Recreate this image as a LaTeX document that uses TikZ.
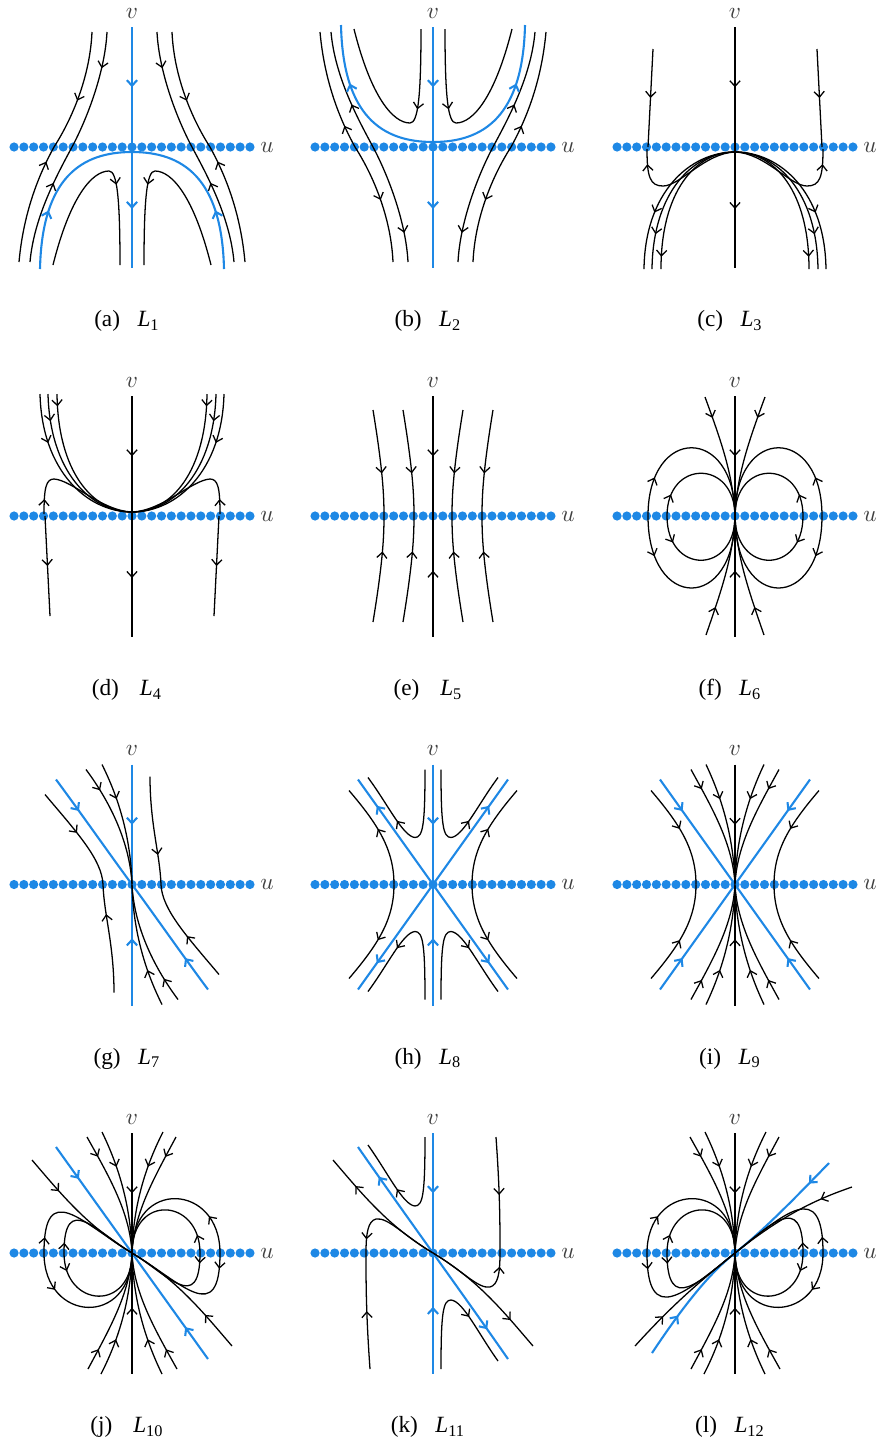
\documentclass[tikz,border=0pt]{standalone}
\usepackage{fontspec}
\setmainfont{Liberation Serif}
\usetikzlibrary{arrows.meta,decorations.markings}
\definecolor{dotblue}{RGB}{30,136,229}

\tikzset{
  orbit/.style={black, line width=0.55pt},
  sepline/.style={dotblue, line width=0.9pt},
  arr/.style={postaction={decorate,decoration={markings,mark=at position #1 with {\arrow{>}}}}},
  rarr/.style={postaction={decorate,decoration={markings,mark=at position #1 with {\arrow{<}}}}},
  lbl/.style={inner sep=0.5pt, black!75},
}

% u-axis of equilibria, labels and caption of one panel
\newcommand{\uvpanel}[2]{%
  \foreach \k in {-12,...,12}
    \fill[dotblue] (\k*9.83,0) circle (4.6);
  \node[lbl] (v#1) at (0,134) {$v$};
  \node[lbl] (u#1) at (135,0) {$u$};
  \node (cap#1) at (-5,-174) {#2};
}

\begin{document}
\begin{tikzpicture}[x=0.43pt, y=0.43pt, >={Straight Barb[length=2.4pt,width=4.4pt]}]
\useasboundingbox (0,0) rectangle (878,-1446);

% (a) L_1
\begin{scope}[shift={(132,-147)}]
  \uvpanel{a}{(a)\hspace{7.5pt}\textit{L}\textsubscript{1}}
  \draw[sepline, arr=0.25, arr=0.755] (0,120) -- (0,-121);
  \foreach \s in {1,-1}{
    \begin{scope}[xscale=\s]
      \draw[orbit, arr=0.29, rarr=0.6] (-40,115) .. controls (-42,70) and (-60,28) .. (-78,0) .. controls (-90,-22) and (-108,-60) .. (-113,-115);
      \draw[orbit, arr=0.15, rarr=0.69] (-25,115) .. controls (-27,75) and (-45,28) .. (-60,0) .. controls (-75,-28) and (-98,-70) .. (-102,-115);
      \draw[orbit, arr=0.62] (-79,-118) .. controls (-62,-50) and (-40,-24) .. (-23,-24) .. controls (-15,-24) and (-12,-50) .. (-12,-118);
      \draw[sepline, arr=0.35] (-92,-122) .. controls (-90,-30) and (-50,-5) .. (0,-5);
    \end{scope}
  }
\end{scope}

% (b) L_2
\begin{scope}[shift={(433,-147)}]
  \uvpanel{b}{(b)\hspace{7.5pt}\textit{L}\textsubscript{2}}
  \draw[sepline, arr=0.25, arr=0.755] (0,120) -- (0,-121);
  \foreach \s in {1,-1}{
    \begin{scope}[xscale=\s]
      \draw[orbit, rarr=0.29, arr=0.6] (-40,-115) .. controls (-42,-70) and (-60,-28) .. (-78,0) .. controls (-90,22) and (-108,60) .. (-113,115);
      \draw[orbit, rarr=0.15, arr=0.69] (-25,-115) .. controls (-27,-75) and (-45,-28) .. (-60,0) .. controls (-75,28) and (-98,70) .. (-102,115);
      \draw[orbit, arr=0.38] (-12,118) .. controls (-12,50) and (-15,24) .. (-23,24) .. controls (-40,24) and (-62,50) .. (-79,118);
      \draw[sepline, arr=0.65] (0,5) .. controls (-50,5) and (-90,30) .. (-92,122);
    \end{scope}
  }
\end{scope}

% (c) L_3
\begin{scope}[shift={(735,-147)}]
  \uvpanel{c}{(c)\hspace{7.5pt}\textit{L}\textsubscript{3}}
  \draw[orbit, arr=0.25, arr=0.755] (0,120) -- (0,-121);
  \foreach \s in {1,-1}{
    \begin{scope}[xscale=\s]
      \draw[orbit, arr=0.5] (-82,98) -- (-87,0);
      \draw[orbit, arr=0.88] (0,-5) .. controls (-30,-6) and (-55,-39) .. (-72,-39) .. controls (-85,-39) and (-88,-30) .. (-88,-2);
      \draw[orbit, arr=0.65] (0,-5) .. controls (-45,-5) and (-90,-45) .. (-91,-122);
      \draw[orbit, arr=0.78] (0,-5) .. controls (-42,-5) and (-82,-45) .. (-83,-122);
      \draw[orbit, arr=0.92] (0,-5) .. controls (-40,-5) and (-74,-45) .. (-74,-122);
    \end{scope}
  }
\end{scope}

% (d) L_4
\begin{scope}[shift={(132,-516)}]
  \uvpanel{d}{(d)\hspace{9pt}\textit{L}\textsubscript{4}}
  \draw[orbit, arr=0.25, arr=0.755] (0,120) -- (0,-121);
  \foreach \s in {1,-1}{
    \begin{scope}[xscale=\s]
      \draw[orbit, arr=0.5] (-87,0) -- (-82,-100);
      \draw[orbit, arr=0.12] (-88,2) .. controls (-88,28) and (-86,37) .. (-78,37) .. controls (-60,36) and (-30,5) .. (0,4);
      \draw[orbit, arr=0.3] (-92,122) .. controls (-90,45) and (-45,4) .. (0,4);
      \draw[orbit, arr=0.17] (-84,122) .. controls (-82,45) and (-42,4) .. (0,4);
      \draw[orbit, arr=0.08] (-75,122) .. controls (-74,45) and (-40,4) .. (0,4);
    \end{scope}
  }
\end{scope}

% (e) L_5
\begin{scope}[shift={(433,-516)}]
  \uvpanel{e}{(e)\hspace{9pt}\textit{L}\textsubscript{5}}
  \draw[orbit, arr=0.25, rarr=0.755] (0,120) -- (0,-121);
  \foreach \s in {1,-1}{
    \begin{scope}[xscale=\s]
      \draw[orbit, arr=0.3, rarr=0.7] (-60,106) .. controls (-50,45) and (-49,20) .. (-49,0) .. controls (-49,-20) and (-50,-45) .. (-60,-106);
      \draw[orbit, arr=0.3, rarr=0.7] (-30,106) .. controls (-20,45) and (-19,20) .. (-19,0) .. controls (-19,-20) and (-20,-45) .. (-30,-106);
    \end{scope}
  }
\end{scope}

% (f) L_6
\begin{scope}[shift={(735,-516)}]
  \uvpanel{f}{(f)\hspace{7.5pt}\textit{L}\textsubscript{6}}
  \draw[orbit, arr=0.25, rarr=0.755] (0,120) -- (0,-121);
  \foreach \s in {1,-1}{
    \begin{scope}[xscale=\s]
      \draw[orbit, arr=0.18] (-30,119) .. controls (-12,70) and (-2,40) .. (0,0);
      \draw[orbit, arr=0.24] (-29,-119) .. controls (-12,-70) and (-2,-40) .. (0,0);
      \draw[orbit, arr=0.22] (-87,0) .. controls (-87,91) and (0,91) .. (0,0);
      \draw[orbit, arr=0.22] (-87,0) .. controls (-87,-96) and (0,-96) .. (0,0);
      \draw[orbit, arr=0.18] (-68,0) .. controls (-68,57) and (0,57) .. (0,0);
      \draw[orbit, arr=0.22] (-68,0) .. controls (-68,-59) and (0,-59) .. (0,0);
    \end{scope}
  }
\end{scope}

% (g) L_7
\begin{scope}[shift={(132,-884.5)}]
  \uvpanel{g}{(g)\hspace{7.5pt}\textit{L}\textsubscript{7}}
  \draw[sepline, arr=0.25, rarr=0.755] (0,120) -- (0,-121);
  \foreach \r in {0,180}{
    \begin{scope}[rotate=\r]
      \draw[sepline, arr=0.3] (-76,105) .. controls (-50,70) and (-20,27) .. (0,0);
      \draw[orbit, arr=0.23, rarr=0.67] (-87,90) .. controls (-55,52) and (-30,25) .. (-29,0) .. controls (-28,-30) and (-18,-60) .. (-18,-108);
      \draw[orbit, arr=0.2] (-46,115) .. controls (-20,80) and (-2,40) .. (0,0);
      \draw[orbit, arr=0.3] (-30,120) .. controls (-10,80) and (-1,40) .. (0,0);
    \end{scope}
  }
\end{scope}

% (h) L_8
\begin{scope}[shift={(433,-884.5)}]
  \uvpanel{h}{(h)\hspace{7.5pt}\textit{L}\textsubscript{8}}
  \draw[sepline, arr=0.25, rarr=0.755] (0,120) -- (0,-121);
  \foreach \s in {1,-1}{
    \foreach \t in {1,-1}{
      \begin{scope}[xscale=\s, yscale=\t]
        \draw[sepline, arr=0.75] (0,0) -- (-75,105);
        \draw[orbit, arr=0.65] (-8,115) .. controls (-8,60) and (-10,47) .. (-18,47) .. controls (-30,48) and (-45,80) .. (-65,107);
        \draw[orbit, arr=0.55] (-39,0) .. controls (-39,35) and (-55,60) .. (-84,94);
      \end{scope}
    }
  }
\end{scope}

% (i) L_9
\begin{scope}[shift={(735,-884.5)}]
  \uvpanel{i}{(i)\hspace{7.5pt}\textit{L}\textsubscript{9}}
  \draw[orbit, arr=0.25, rarr=0.755] (0,120) -- (0,-121);
  \foreach \s in {1,-1}{
    \foreach \t in {1,-1}{
      \begin{scope}[xscale=\s, yscale=\t]
        \draw[sepline, arr=0.3] (-75,105) -- (0,0);
        \draw[orbit, arr=0.45] (-84,94) .. controls (-55,60) and (-39,35) .. (-39,0);
        \draw[orbit, arr=0.18] (-44,115) .. controls (-22,75) and (-2,40) .. (0,0);
        \draw[orbit, arr=0.3] (-29,120) .. controls (-10,80) and (-1,40) .. (0,0);
      \end{scope}
    }
  }
\end{scope}

% (j) L_10
\begin{scope}[shift={(132,-1253)}]
  \uvpanel{j}{(j)\hspace{9pt}\textit{L}\textsubscript{10}}
  \draw[orbit, arr=0.25, rarr=0.755] (0,120) -- (0,-121);
  \foreach \r in {0,180}{
    \begin{scope}[rotate=\r]
      \draw[sepline, arr=0.3] (-76,106) -- (0,0);
      \draw[orbit, arr=0.3] (-100,93) .. controls (-70,58) and (-45,27) .. (0,0);
      \draw[orbit, arr=0.18] (-45,116) .. controls (-22,75) and (-2,40) .. (0,0);
      \draw[orbit, arr=0.3] (-30,121) .. controls (-10,80) and (-1,40) .. (0,0);
      \draw[orbit, arr=0.3] (31,121) .. controls (10,80) and (1,40) .. (0,0);
      \draw[orbit, arr=0.18] (44,116) .. controls (22,75) and (2,40) .. (0,0);
      \draw[orbit, arr=0.12] (-88,0) .. controls (-88,75) and (-50,30) .. (0,0);
      \draw[orbit, arr=0.25] (-88,0) .. controls (-88,-70) and (0,-75) .. (0,0);
      \draw[orbit, arr=0.1] (-68,0) .. controls (-68,62) and (-35,21) .. (0,0);
      \draw[orbit, arr=0.15] (-68,0) .. controls (-68,-55) and (0,-60) .. (0,0);
    \end{scope}
  }
\end{scope}

% (k) L_11
\begin{scope}[shift={(433,-1253)}]
  \uvpanel{k}{(k)\hspace{7.5pt}\textit{L}\textsubscript{11}}
  \draw[sepline, arr=0.25, rarr=0.755] (0,120) -- (0,-121);
  \foreach \r in {0,180}{
    \begin{scope}[rotate=\r]
      \draw[sepline, arr=0.72] (0,0) .. controls (-25,35) and (-50,70) .. (-75,106);
      \draw[orbit, arr=0.65] (-8,116) .. controls (-8,60) and (-10,47) .. (-18,47) .. controls (-30,48) and (-45,80) .. (-65,108);
      \draw[orbit, arr=0.75] (0,0) .. controls (-45,27) and (-70,58) .. (-100,93);
      \draw[orbit, arr=0.87] (0,0) .. controls (-30,18) and (-45,36) .. (-57,34) .. controls (-65,32) and (-67,20) .. (-67,0);
      \draw[orbit, arr=0.5] (-63,-116) .. controls (-67,-60) and (-67,-30) .. (-67,0);
    \end{scope}
  }
\end{scope}

% (l) L_12
\begin{scope}[shift={(735,-1253)}]
  \uvpanel{l}{(l)\hspace{7.5pt}\textit{L}\textsubscript{12}}
  \draw[orbit, arr=0.25, rarr=0.755] (0,120) -- (0,-121);
  \draw[sepline, arr=0.35] (-83,-100) .. controls (-55,-58) and (-28,-22) .. (0,0);
  \draw[sepline, arr=0.22] (94,90) .. controls (60,55) and (28,22) .. (0,0);
  \draw[orbit, arr=0.3] (-100,-93) .. controls (-70,-60) and (-45,-36) .. (0,0);
  \draw[orbit, arr=0.25] (117,66) .. controls (85,55) and (50,40) .. (0,0);
  \foreach \r in {0,180}{
    \begin{scope}[rotate=\r]
      \draw[orbit, arr=0.18] (-45,116) .. controls (-22,75) and (-2,40) .. (0,0);
      \draw[orbit, arr=0.3] (-30,121) .. controls (-10,80) and (-1,40) .. (0,0);
      \draw[orbit, arr=0.3] (31,121) .. controls (10,80) and (1,40) .. (0,0);
      \draw[orbit, arr=0.18] (44,116) .. controls (22,75) and (2,40) .. (0,0);
      \draw[orbit, arr=0.12] (88,0) .. controls (88,75) and (50,40) .. (0,0);
      \draw[orbit, arr=0.25] (88,0) .. controls (88,-70) and (0,-75) .. (0,0);
      \draw[orbit, arr=0.1] (68,0) .. controls (68,62) and (35,28) .. (0,0);
      \draw[orbit, arr=0.15] (68,0) .. controls (68,-55) and (0,-60) .. (0,0);
    \end{scope}
  }
\end{scope}

\end{tikzpicture}
\end{document}
